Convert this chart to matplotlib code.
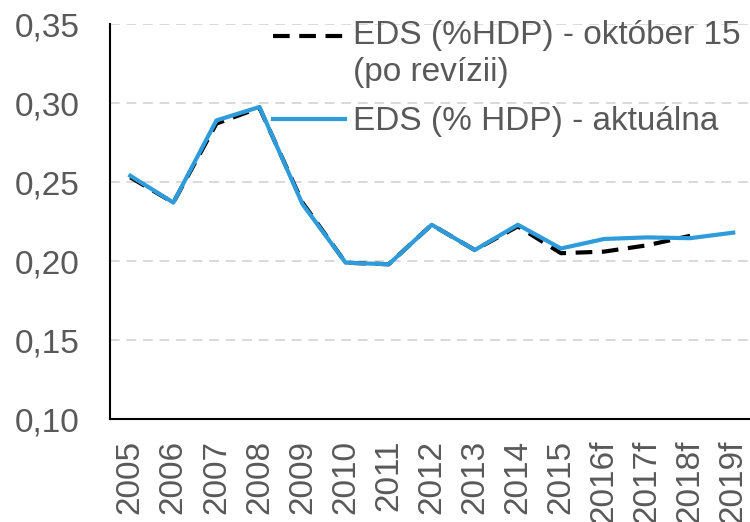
import numpy as np
import matplotlib
matplotlib.use('Agg')
import matplotlib.pyplot as plt
from matplotlib.ticker import FuncFormatter

roky = ['2005', '2006', '2007', '2008', '2009', '2010', '2011', '2012', '2013',
        '2014', '2015', '2016f', '2017f', '2018f', '2019f']
eds_okt15 = [0.253, 0.237, 0.287, 0.297, 0.237, 0.199, 0.198, 0.223, 0.207,
             0.222, 0.205, 0.206, 0.210, 0.216]
eds_aktualna = [0.254, 0.237, 0.289, 0.2975, 0.236, 0.199, 0.198, 0.223, 0.207,
                0.223, 0.208, 0.214, 0.215, 0.2145, 0.218]

plt.rcParams['font.family'] = ['Liberation Sans', 'DejaVu Sans']
siva = '#595959'

fig = plt.figure(figsize=(7.5, 5.22), dpi=100)
ax = fig.add_axes([0.147, 0.197, 0.853, 0.757])

x = np.arange(len(roky))
ax.plot(x[:len(eds_okt15)], eds_okt15, color='black', lw=3, ls=(0, (4, 2.3)),
        label='EDS (%HDP) - október 15\n(po revízii)')
ax.plot(x, eds_aktualna, color='#2E9BDA', lw=3, label='EDS (% HDP) - aktuálna')

ax.set_ylim(0.10, 0.35)
ax.set_xlim(-0.465, 14.39)
ax.set_yticks(np.arange(0.10, 0.351, 0.05))
ax.yaxis.set_major_formatter(FuncFormatter(lambda v, p: f'{v:.2f}'.replace('.', ',')))
ax.set_xticks(x)
ax.set_xticklabels(roky, rotation=90)
ax.tick_params(axis='both', colors=siva, labelsize=24, length=0)
ax.tick_params(axis='y', pad=22)
ax.tick_params(axis='x', pad=15)
ax.grid(axis='y', color='#d9d9d9', ls=(0, (5, 3.5)), lw=1.4)
ax.set_axisbelow(True)
for s in ['top', 'right']:
    ax.spines[s].set_visible(False)
for s in ['left', 'bottom']:
    ax.spines[s].set_color('black')
    ax.spines[s].set_linewidth(1.5)

leg = fig.legend(loc='upper left', bbox_to_anchor=(273 / 750, 1 - 20 / 522), frameon=False,
                 handlelength=2.15, handletextpad=0.25, labelspacing=0.55,
                 borderaxespad=0, borderpad=0, prop={'size': 24})
for t in leg.get_texts():
    t.set_color(siva)
    t.set_linespacing(1.25)

# posunúť čiarkovanú značku na prvý riadok
h = leg.get_lines()[0]
h.set_ydata(np.asarray(h.get_ydata()) + 13)

fig.savefig('out.png', dpi=100, facecolor='white')
